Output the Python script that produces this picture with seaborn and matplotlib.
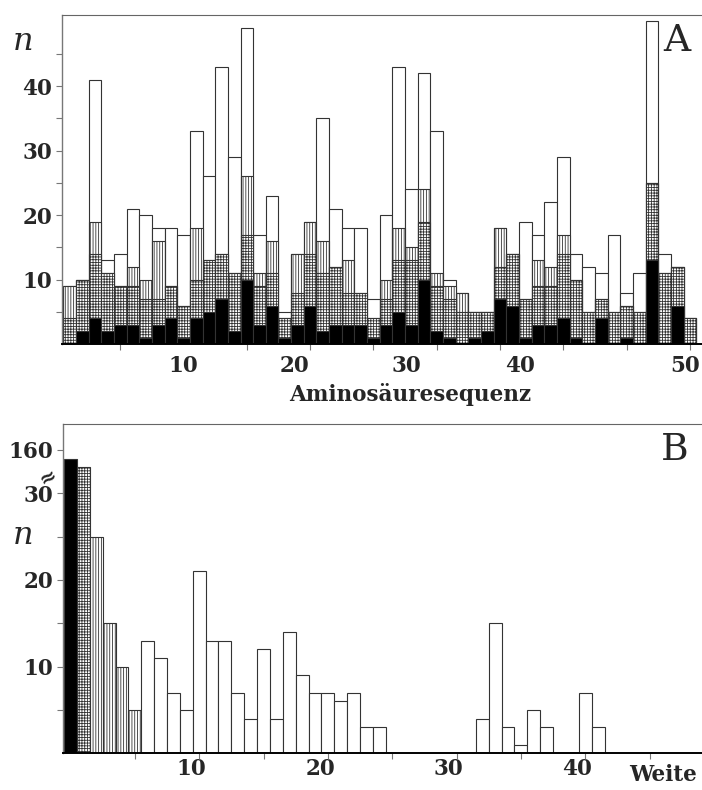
import numpy as np
import pandas as pd
import matplotlib
matplotlib.use("Agg")
import matplotlib.pyplot as plt
import seaborn as sns

# --- Panel A: counts per position of the amino acid sequence, four classes
position = np.arange(1, 51)
n_black = [0, 2, 4, 2, 3, 3, 1, 3, 4, 1, 4, 5, 7, 2, 10, 3, 6, 1, 3, 6,
           2, 3, 3, 3, 1, 3, 5, 3, 10, 2, 1, 0, 1, 2, 7, 6, 1, 3, 3, 4,
           1, 0, 4, 0, 1, 0, 13, 0, 6, 0]
n_grid = [4, 8, 10, 9, 6, 6, 6, 4, 5, 5, 6, 8, 7, 9, 7, 6, 5, 3, 5, 8,
          9, 9, 5, 5, 3, 4, 8, 10, 9, 7, 6, 5, 4, 3, 5, 8, 6, 6, 6, 10,
          9, 5, 3, 5, 5, 5, 12, 11, 6, 4]
n_vert = [5, 0, 5, 0, 0, 3, 3, 9, 0, 0, 8, 0, 0, 0, 9, 2, 5, 0, 6, 5,
          5, 0, 5, 0, 0, 3, 5, 2, 5, 2, 2, 3, 0, 0, 6, 0, 0, 4, 3, 3,
          0, 0, 0, 0, 0, 0, 0, 0, 0, 0]
n_white = [0, 0, 22, 2, 5, 9, 10, 2, 9, 11, 15, 13, 29, 18, 23, 6, 7, 1, 0, 0,
           19, 9, 5, 10, 3, 10, 25, 9, 18, 22, 1, 0, 0, 0, 0, 0, 12, 4, 10, 12,
           4, 7, 4, 12, 2, 6, 25, 3, 0, 0]
# tick labels of panel A as placed in the original (slightly off the ticks)
labels_A = ["10", "20", "30", "40", "50"]
label_pos_A = [10.0, 18.8, 27.6, 36.6, 49.6]

# --- Panel B: counts per width (Weite); first two values sit above the axis break
weite = np.arange(0, 42)
n_weite = [159, 158, 25, 15, 10, 5, 13, 11, 7, 5, 21, 13, 13, 7, 4, 12, 4, 14,
           9, 7, 7, 6, 7, 3, 3, 0, 0, 0, 0, 0, 0, 0, 4, 15, 3, 1, 5, 3, 0, 0,
           7, 3]
labels_B = ["10", "20", "30", "40"]
label_pos_B = [9.4, 19.4, 29.4, 39.4]

sns.set_style("ticks")
plt.rcParams["font.family"] = ["DejaVu Serif"]
plt.rcParams["font.weight"] = "bold"
plt.rcParams["hatch.linewidth"] = 0.6

EDGE = "#333333"
HATCH = {"schwarz": None, "kariert": "++++++", "gestreift": "||||||", "weiss": None}
FILL = {"schwarz": "black", "kariert": "white", "gestreift": "white", "weiss": "white"}

fig = plt.figure(figsize=(7.02, 7.90), dpi=100)
axA = fig.add_axes([62 / 702, (790 - 344.3) / 790, 640 / 702, 329.3 / 790])
axB = fig.add_axes([63 / 702, (790 - 753.3) / 790, 639 / 702, 329.3 / 790])


def style_axes(ax, xpad):
    sns.despine(ax=ax, right=True, top=False)
    ax.spines["top"].set_linestyle((0, (1, 1)))
    ax.spines["top"].set_color("#666666")
    ax.spines["top"].set_linewidth(0.8)
    ax.spines["left"].set_color("#777777")
    ax.spines["left"].set_linewidth(1.0)
    ax.spines["bottom"].set_color("black")
    ax.spines["bottom"].set_linewidth(1.4)
    ax.tick_params(which="both", direction="out", width=0.8, color="#777777",
                   labelsize=15.5)
    ax.tick_params(axis="y", which="major", length=4, pad=3)
    ax.tick_params(axis="x", which="major", length=0, pad=xpad)
    ax.tick_params(axis="x", which="minor", length=4)
    ax.set_xlabel("")
    ax.set_ylabel("")


# panel A: stacked classes, drawn as overlapping cumulative bars
cum = np.cumsum([n_black, n_grid, n_vert, n_white], axis=0)
classes = ["schwarz", "kariert", "gestreift", "weiss"]
for k in [3, 2, 1, 0]:
    df = pd.DataFrame({"pos": position, "n": cum[k]})
    sns.barplot(data=df, x="pos", y="n", native_scale=True, width=1,
                color=FILL[classes[k]], saturation=1, errorbar=None,
                edgecolor=EDGE, linewidth=0.8, hatch=HATCH[classes[k]], ax=axA)

axA.set_xlim(0.4, 50.95)
axA.set_ylim(0, 51)
axA.set_xticks(label_pos_A, labels_A)
axA.set_xticks(np.arange(5, 51, 5), minor=True)
axA.set_yticks(np.arange(5, 50, 5))
axA.set_yticklabels(["", "10", "", "20", "", "30", "", "40", ""])
style_axes(axA, 7.5)
axA.text(0.96, 0.921, "A", transform=axA.transAxes, ha="center", va="center",
         fontsize=27, fontweight="normal")


# panel B: broken y axis, values above 30 shown relative to the 160 mark
def broken(v):
    return v - 125 if v > 30 else v


klasse = np.select([weite == 0, weite == 1, weite <= 5], ["schwarz", "kariert", "gestreift"], "weiss")
dfB = pd.DataFrame({"weite": weite, "n": [broken(v) for v in n_weite], "klasse": klasse})
sns.barplot(data=dfB, x="weite", y="n", hue="klasse", hue_order=classes,
            palette=FILL, native_scale=True, width=1, dodge=False, saturation=1,
            errorbar=None, edgecolor=EDGE, linewidth=0.8, legend=False, ax=axB)
for cont, cls in zip(axB.containers, classes):
    for bar in cont:
        bar.set_hatch(HATCH[cls])

axB.set_xlim(-0.58, 49.07)
axB.set_ylim(0, 38)
axB.set_xticks(label_pos_B, labels_B)
axB.set_xticks(np.arange(5, 46, 5), minor=True)
axB.set_yticks(np.arange(5, 36, 5))
axB.set_yticklabels(["", "10", "", "20", "", "30", "160"])
style_axes(axB, 3.5)
axB.text(0.958, 0.921, "B", transform=axB.transAxes, ha="center", va="center",
         fontsize=27, fontweight="normal")
axB.text(-0.002, 31.8, "≈", transform=axB.get_yaxis_transform(), ha="right",
         va="center", fontsize=15, rotation=30)

# labels
fig.text(23 / 702, 1 - 50 / 790, "n", style="italic", fontweight="normal",
         fontsize=23, ha="center", va="baseline")
fig.text(23 / 702, 1 - 544 / 790, "n", style="italic", fontweight="normal",
         fontsize=23, ha="center", va="baseline")
fig.text(410 / 702, 1 - 394 / 790, "Aminosäuresequenz", fontsize=15.5,
         ha="center", va="center")
fig.text(663 / 702, 1 - 775 / 790, "Weite", fontsize=15.5, ha="center", va="center")

fig.savefig("out.png", dpi=100)
